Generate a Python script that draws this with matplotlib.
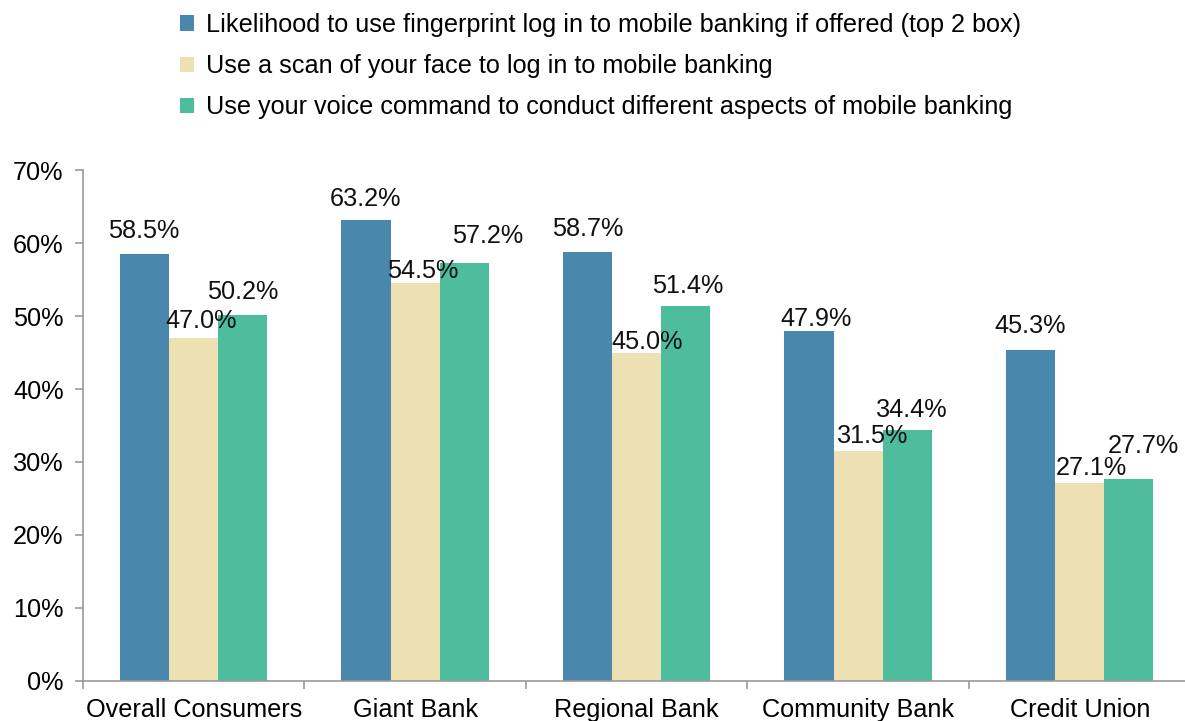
import matplotlib
matplotlib.use("Agg")
import matplotlib.pyplot as plt
import numpy as np
from matplotlib.patches import Patch
from matplotlib.ticker import FuncFormatter

categories = ["Overall Consumers", "Giant Bank", "Regional Bank", "Community Bank", "Credit Union"]
series_names = [
    "Likelihood to use fingerprint log in to mobile banking if offered (top 2 box)",
    "Use a scan of your face to log in to mobile banking",
    "Use your voice command to conduct different aspects of mobile banking",
]
fingerprint = [58.5, 63.2, 58.7, 47.9, 45.3]
face_scan = [47.0, 54.5, 45.0, 31.5, 27.1]
voice = [50.2, 57.2, 51.4, 34.4, 27.7]
colors = ["#4A87AD", "#EDE1B4", "#4DBD9E"]

# hand-placed label nudges from the original (dx, gap above bar) in pixels
label_nudges = [
    [(-1, 16), (-1, 14), (0, 16), (7, 5), (0, 17)],
    [(7, 10), (8, 5), (10, 4), (14, 8), (12, 8)],
    [(0, 16), (23, 20), (2, 13), (4, 13), (15, 26)],
]

plt.rcParams["font.family"] = ["Liberation Sans", "DejaVu Sans"]
plt.rcParams["font.size"] = 18.2

fig = plt.figure(figsize=(11.85, 7.21), dpi=100)
ax = fig.add_axes([0.0700, 0.0555, 0.9346, 0.7087])

x = np.arange(len(categories))
w = 0.222
for i, (vals, c) in enumerate(zip([fingerprint, face_scan, voice], colors)):
    bars = ax.bar(x + (i - 1) * w, vals, width=w, color=c, zorder=2)
    for (b, v), (dx, dy) in zip(zip(bars, vals), label_nudges[i]):
        ax.annotate(f"{v:.1f}%", (b.get_x() + b.get_width() / 2, v),
                    xytext=(dx, dy), textcoords="offset pixels",
                    ha="center", va="baseline", color="#111111", zorder=3)

ax.set_ylim(0, 70)
ax.set_xlim(-0.5, len(categories) - 0.5)
ax.set_yticks(np.arange(0, 71, 10))
ax.yaxis.set_major_formatter(FuncFormatter(lambda v, p: f"{v:.0f}%"))
ax.set_xticks(x)
ax.set_xticklabels(categories)
ax.set_xticks(np.arange(-0.5, len(categories), 1.0), minor=True)
ax.tick_params(axis="x", which="major", length=0, pad=12)
ax.tick_params(axis="x", which="minor", length=6, color="#999999", width=1.2)
ax.tick_params(axis="y", length=6, color="#999999", width=1.2, pad=8)
for s in ["top", "right"]:
    ax.spines[s].set_visible(False)
for s in ["left", "bottom"]:
    ax.spines[s].set_color("#999999")
    ax.spines[s].set_linewidth(1.2)

handles = [Patch(facecolor=c, edgecolor="none") for c in colors]
fig.legend(handles, series_names, loc="upper left", bbox_to_anchor=(0.139, 1.003),
           frameon=False, handlelength=0.55, handleheight=0.55,
           handletextpad=0.5, labelspacing=0.68, borderaxespad=0.2)

fig.savefig("out.png", dpi=100, facecolor="white")
